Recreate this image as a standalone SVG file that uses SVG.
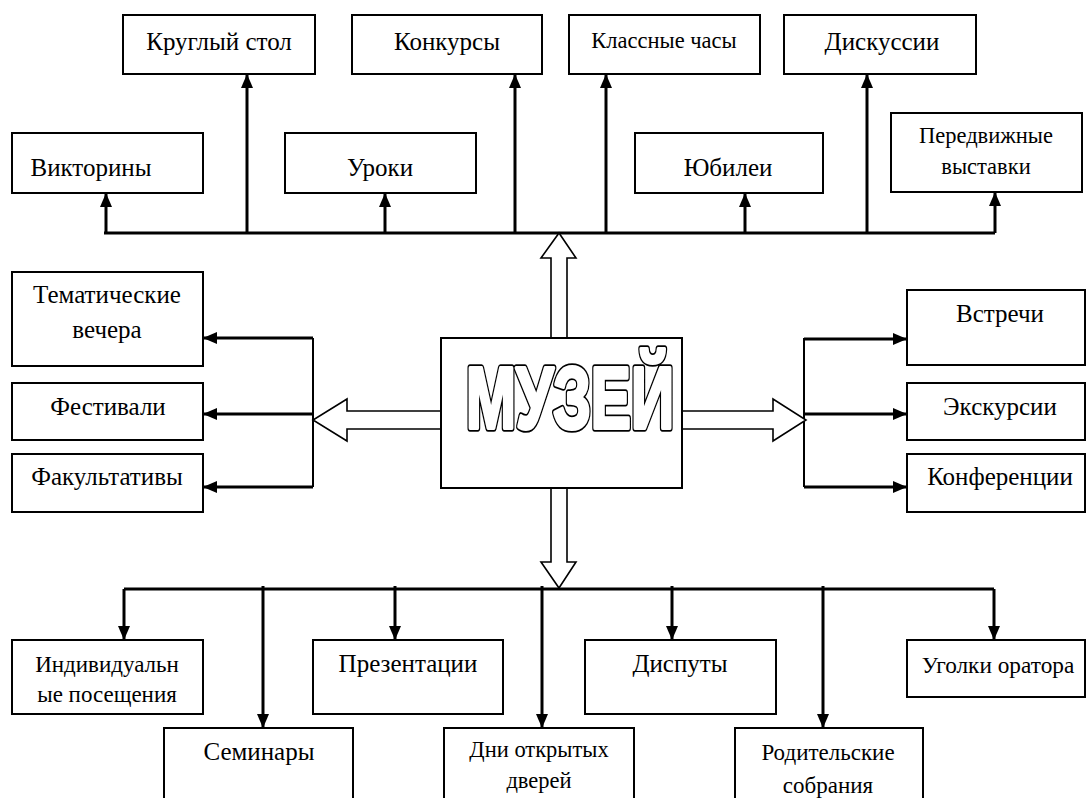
<svg xmlns="http://www.w3.org/2000/svg" width="1086" height="798" viewBox="0 0 1086 798">
<style>
.box{fill:#fff;stroke:#000;stroke-width:2}
.t{font-family:Liberation Serif,Times New Roman,Times,serif;font-size:25px;fill:#000;text-anchor:middle}
.tm{font-size:23px}
.ts{font-size:22.5px}
.c{fill:none;stroke:#000;stroke-width:3}
.cb{fill:none;stroke:#000;stroke-width:2}
.big{fill:#fff;stroke:#000;stroke-width:1.6;stroke-linejoin:miter}
.mz{font-family:Liberation Sans,Arial,sans-serif;font-weight:bold;font-size:88px;stroke-linejoin:round}
</style>
<defs>
<marker id="ah" markerUnits="userSpaceOnUse" markerWidth="14" markerHeight="12" refX="14" refY="6" orient="auto">
<path d="M0,0 L14,6 L0,12 z" fill="#000"/>
</marker>
</defs>
<rect width="1086" height="798" fill="#fff"/>

<g id="connectors">
<path class="c" d="M104,233 H995"/>
<path class="c" d="M106,233 V193" marker-end="url(#ah)"/>
<path class="c" d="M247,233 V74" marker-end="url(#ah)"/>
<path class="c" d="M385,233 V193" marker-end="url(#ah)"/>
<path class="c" d="M515,233 V74" marker-end="url(#ah)"/>
<path class="c" d="M606,233 V74" marker-end="url(#ah)"/>
<path class="c" d="M745,233 V193" marker-end="url(#ah)"/>
<path class="c" d="M867,233 V74" marker-end="url(#ah)"/>
<path class="c" d="M995,233 V192" marker-end="url(#ah)"/>
<path class="cb" d="M313,338 V487"/>
<path class="c" d="M313,338 H203" marker-end="url(#ah)"/>
<path class="c" d="M313,414 H203" marker-end="url(#ah)"/>
<path class="c" d="M313,487 H203" marker-end="url(#ah)"/>
<path class="cb" d="M804,338 V487"/>
<path class="c" d="M804,339 H907" marker-end="url(#ah)"/>
<path class="c" d="M804,414 H907" marker-end="url(#ah)"/>
<path class="c" d="M804,487 H907" marker-end="url(#ah)"/>
<path class="c" d="M124,589 H994"/>
<path class="c" d="M124,589 V640" marker-end="url(#ah)"/>
<path class="c" d="M263,586 V728" marker-end="url(#ah)"/>
<path class="c" d="M395,586 V640" marker-end="url(#ah)"/>
<path class="c" d="M542,586 V728" marker-end="url(#ah)"/>
<path class="c" d="M672,586 V640" marker-end="url(#ah)"/>
<path class="c" d="M823,586 V728" marker-end="url(#ah)"/>
<path class="c" d="M994,589 V640" marker-end="url(#ah)"/>
<polygon class="big" points="551,338 551,258 541,258 559,233 576,258 567,258 567,338"/>
<polygon class="big" points="551,488 551,562 541,562 559,588 576,562 567,562 567,488"/>
<polygon class="big" points="441,411 347,411 347,399 313,420 347,441 347,429 441,429"/>
<polygon class="big" points="682,411 773,411 773,399 806,420 773,441 773,429 682,429"/>
</g>

<g id="museum">
<rect class="box" x="441" y="338" width="241" height="150"/>
<text class="mz" x="466" y="428" textLength="208" lengthAdjust="spacingAndGlyphs" fill="#000" stroke="#000" stroke-width="7.5">МУЗЕЙ</text>
<text class="mz" x="466" y="428" textLength="208" lengthAdjust="spacingAndGlyphs" fill="#fff" stroke="#fff" stroke-width="4">МУЗЕЙ</text>
</g>

<g id="n-kruglyi"><rect class="box" x="123" y="15" width="192" height="59"/><text class="t" x="219" y="50">Круглый стол</text></g>
<g id="n-konkursy"><rect class="box" x="352" y="15" width="190" height="59"/><text class="t" x="447" y="50">Конкурсы</text></g>
<g id="n-klassnye"><rect class="box" x="569" y="15" width="191" height="59"/><text class="t ts" x="664" y="48">Классные часы</text></g>
<g id="n-diskussii"><rect class="box" x="784" y="15" width="192" height="59"/><text class="t" x="882" y="50">Дискуссии</text></g>
<g id="n-viktoriny"><rect class="box" x="12" y="133" width="191" height="60"/><text class="t" x="91" y="176">Викторины</text></g>
<g id="n-uroki"><rect class="box" x="285" y="133" width="191" height="60"/><text class="t" x="380" y="176">Уроки</text></g>
<g id="n-yubilei"><rect class="box" x="635" y="133" width="188" height="60"/><text class="t" x="728" y="176">Юбилеи</text></g>
<g id="n-peredvizhnye"><rect class="box" x="891" y="113" width="191" height="79"/><text class="t ts" x="986" y="143">Передвижные</text><text class="t ts" x="986" y="174">выставки</text></g>

<g id="n-tematicheskie"><rect class="box" x="12" y="272" width="191" height="94"/><text class="t" x="107" y="303">Тематические</text><text class="t" x="107" y="338">вечера</text></g>
<g id="n-festivali"><rect class="box" x="12" y="383" width="191" height="57"/><text class="t" x="108" y="415">Фестивали</text></g>
<g id="n-fakultativy"><rect class="box" x="12" y="454" width="191" height="58"/><text class="t" x="107" y="485">Факультативы</text></g>

<g id="n-vstrechi"><rect class="box" x="907" y="290" width="178" height="75"/><text class="t" x="1000" y="322">Встречи</text></g>
<g id="n-ekskursii"><rect class="box" x="907" y="383" width="178" height="57"/><text class="t" x="1000" y="415">Экскурсии</text></g>
<g id="n-konferencii"><rect class="box" x="907" y="454" width="178" height="58"/><text class="t" x="1000" y="485">Конференции</text></g>

<g id="n-individualnye"><rect class="box" x="12" y="640" width="191" height="74"/><text class="t tm" x="107" y="672">Индивидуальн</text><text class="t tm" x="107" y="702">ые посещения</text></g>
<g id="n-prezentacii"><rect class="box" x="313" y="640" width="190" height="74"/><text class="t" x="408" y="672">Презентации</text></g>
<g id="n-disputy"><rect class="box" x="585" y="640" width="191" height="74"/><text class="t" x="680" y="672">Диспуты</text></g>
<g id="n-ugolki"><rect class="box" x="907" y="640" width="178" height="57"/><text class="t" x="998" y="673" style="font-size:23.3px">Уголки оратора</text></g>
<g id="n-seminary"><rect class="box" x="164" y="728" width="189" height="80"/><text class="t" x="259" y="760">Семинары</text></g>
<g id="n-dni"><rect class="box" x="444" y="728" width="190" height="80"/><text class="t ts" x="539" y="757">Дни открытых</text><text class="t ts" x="539" y="788">дверей</text></g>
<g id="n-roditelskie"><rect class="box" x="735" y="728" width="188" height="80"/><text class="t tm" x="828" y="760">Родительские</text><text class="t tm" x="828" y="793">собрания</text></g>
</svg>
